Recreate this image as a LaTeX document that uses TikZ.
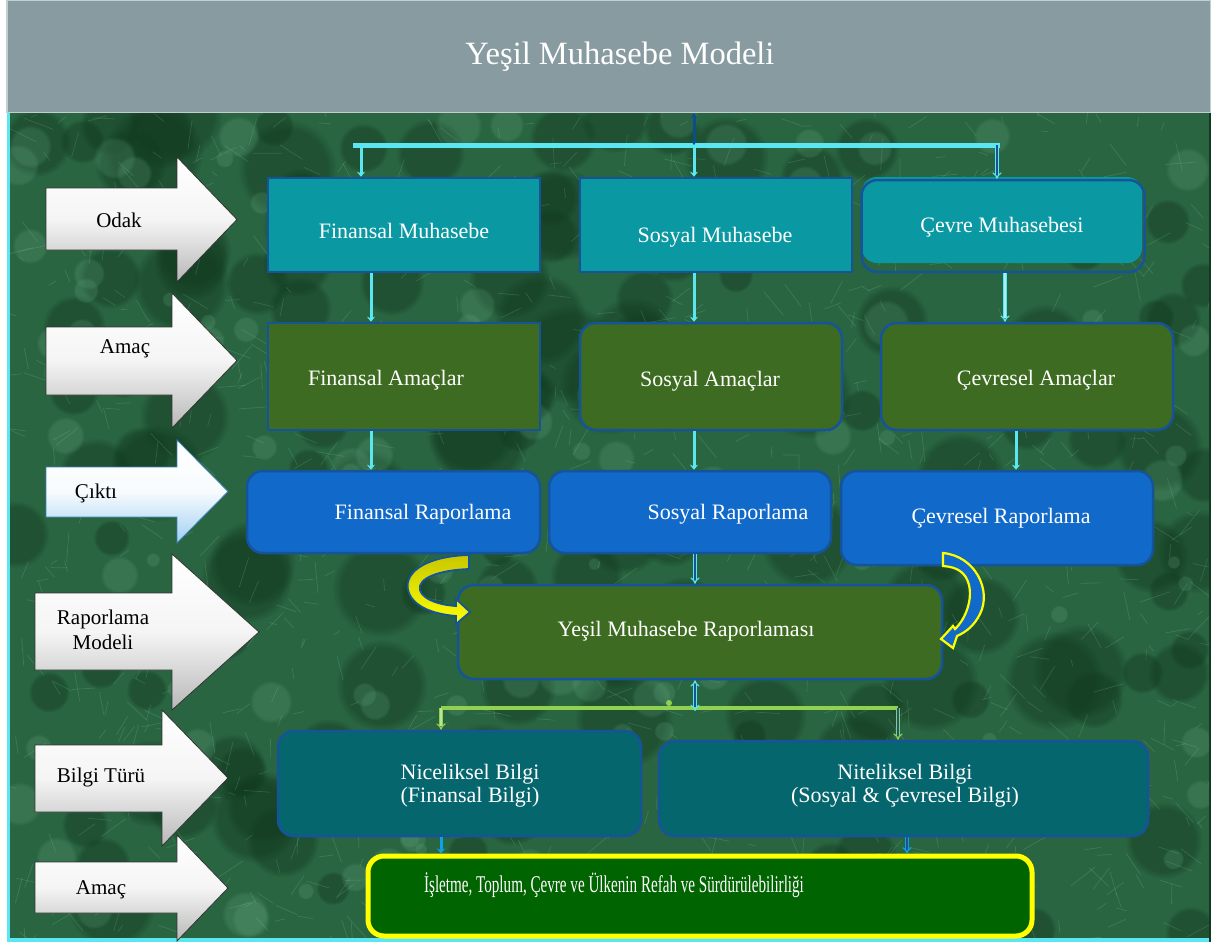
\documentclass[tikz,border=0pt]{standalone}
\usepackage{fontspec}
\setmainfont{Liberation Serif}
\newfontfamily\narrowserif[FakeStretch=0.63]{Liberation Serif}
\usetikzlibrary{arrows.meta,fadings}

% left-hand block arrow: body (x, top, bottom), head (base x, top, bottom), tip x, style
\newcommand{\sidearrow}[8]{%
  \draw[#8] (#1,#2) -- (#4,#2) -- (#4,#5) -- (#7,{(#5+#6)/2}) -- (#4,#6) -- (#4,#3) -- (#1,#3) -- cycle;}

\begin{document}
\begin{tikzpicture}[x=1pt,y=1pt,yscale=-1,xscale=1,
  boxtext/.style={text=white, font=\fontsize{22}{23}\selectfont, align=center},
  sidetext/.style={text=black, font=\fontsize{21}{25}\selectfont, align=center},
  sharpbox/.style={draw=edgeblue, line width=2.5pt, inner sep=0pt},
  roundbox/.style={sharpbox, rounded corners=16pt},
  whitearrow/.style={draw=black!80, line width=0.8pt, top color=white, bottom color=black!28, middle color=white!96!black},
  bluearrow/.style={draw=arrowedge, line width=0.8pt, top color=white, bottom color=skyblue, middle color=white!92!skyblue},
  feed/.style={draw=#1, line width=3pt, -{Stealth[length=5pt,width=8pt]}},
  feed/.default=feedcyan,
  hollow/.style={draw=#1, line width=1.2pt, double=edgeblue, double distance=1.8pt, -{Implies}},
  blob/.style={fill=#1, path fading=circle with fuzzy edge 20 percent},
]

\definecolor{titlegray}{HTML}{879BA0}
\definecolor{titleedge}{HTML}{C3CED1}
\definecolor{marble}{HTML}{2A6541}
\definecolor{marbledark}{HTML}{123A20}
\definecolor{marblelight}{HTML}{6DB38A}
\definecolor{marblevein}{HTML}{8FD0A8}
\definecolor{tealfill}{HTML}{0A99A2}
\definecolor{olivefill}{HTML}{3D6B21}
\definecolor{bluefill}{HTML}{1169C9}
\definecolor{deepteal}{HTML}{05666E}
\definecolor{goalgreen}{HTML}{006400}
\definecolor{edgeblue}{HTML}{15549A}
\definecolor{feedcyan}{HTML}{5CE6F2}
\definecolor{feedblue}{HTML}{0BA3E6}
\definecolor{limeline}{HTML}{92D050}
\definecolor{skyblue}{HTML}{9FD0F2}
\definecolor{arrowedge}{HTML}{3A7FB5}
\definecolor{goalyellow}{HTML}{FFFF00}
\definecolor{darkline}{HTML}{0B4F8A}

\useasboundingbox (0,0) rectangle (1211,942);
\fill[white] (0,0) rectangle (1211,942);

% marble backdrop
\fill[marble] (7,113) rectangle (1211,942);
\begin{scope}
  \clip (7,113) rectangle (1211,942);
  \pgfmathsetseed{42}
  \foreach \k in {1,...,150} {
    \pgfmathsetmacro{\px}{7+rnd*1204}
    \pgfmathsetmacro{\py}{113+rnd*829}
    \pgfmathsetmacro{\pr}{15+rnd*35}
    \fill[blob=marbledark, opacity=0.45] (\px,\py) circle (\pr);
  }
  \foreach \k in {1,...,140} {
    \pgfmathsetmacro{\px}{7+rnd*1204}
    \pgfmathsetmacro{\py}{113+rnd*829}
    \pgfmathsetmacro{\pr}{6+rnd*18}
    \fill[blob=marblelight, opacity=0.2] (\px,\py) circle (\pr);
  }
  \foreach \k in {1,...,1100} {
    \pgfmathsetmacro{\px}{7+rnd*1204}
    \pgfmathsetmacro{\py}{113+rnd*829}
    \pgfmathsetmacro{\pa}{rnd*360}
    \pgfmathsetmacro{\pl}{6+rnd*26}
    \draw[marblevein, opacity=0.2, line width=0.7pt] (\px,\py) -- ++(\pa:\pl);
  }
\end{scope}
\draw[feedcyan, line width=3pt] (8.5,113) -- (8.5,942);
\draw[feedcyan, line width=5pt] (7,940) -- (1211,940);
\draw[marbledark, line width=2pt] (1210,113) -- (1210,942);

% title bar
\node[draw=titleedge, line width=1.2pt, fill=titlegray, minimum width=1204, minimum height=112, inner sep=0pt] (title) at (609,56.5) {};
\node[text=white, font=\fontsize{32.5}{36}\selectfont] (title-t) at (620,57) {Yeşil Muhasebe Modeli};

% row labels on the left
\sidearrow{46}{188}{250}{177}{157}{282}{237}{whitearrow}
\sidearrow{46}{327}{395}{172}{293}{428}{237}{whitearrow}
\sidearrow{46}{467}{517}{177}{440}{543}{228}{bluearrow}
\sidearrow{35}{593}{670}{172}{554}{710}{259}{whitearrow}
\sidearrow{35}{745}{812}{162}{710}{846}{228}{whitearrow}
\sidearrow{35}{862}{913}{177}{835}{941}{228}{whitearrow}
\node[sidetext] (odak) at (119,220) {Odak};
\node[sidetext] (amac1) at (125,349) {Amaç};
\node[sidetext] (cikti) at (96,493) {Çıktı};
\node[sidetext] (rmodel) at (103,630) {Raporlama\\Modeli};
\node[sidetext] (bturu) at (101,777) {Bilgi Türü};
\node[sidetext] (amac2) at (101,890) {Amaç};

% focus row
\node[sharpbox, fill=tealfill, minimum width=272, minimum height=94] (fm) at (404,225) {};
\node[sharpbox, fill=tealfill, minimum width=272, minimum height=94] (sm) at (716,225) {};
\fill[tealfill, rounded corners=15pt] (862,177) rectangle (1142,263);
\node[roundbox, minimum width=283, minimum height=92] (cm) at (1003,226) {};
\node[boxtext] (fm-t) at (404,231) {Finansal Muhasebe};
\node[boxtext] (sm-t) at (715,237) {Sosyal Muhasebe};
\node[boxtext] (cm-t) at (1002,227) {Çevre Muhasebesi};

% aims row
\node[sharpbox, fill=olivefill, minimum width=272, minimum height=107] (fa) at (404,376.5) {};
\node[roundbox, fill=olivefill, minimum width=262, minimum height=107] (sa) at (711,376.5) {};
\node[roundbox, fill=olivefill, minimum width=292, minimum height=107] (ca) at (1027,376.5) {};
\node[boxtext] (fa-t) at (386,380) {Finansal Amaçlar};
\node[boxtext] (sa-t) at (710,381) {Sosyal Amaçlar};
\node[boxtext] (ca-t) at (1036,380) {Çevresel Amaçlar};

% reporting row
\node[roundbox, fill=bluefill, minimum width=293, minimum height=82] (fr) at (393.5,512) {};
\node[roundbox, fill=bluefill, minimum width=282, minimum height=82] (sr) at (690,512) {};
\node[roundbox, fill=bluefill, minimum width=312, minimum height=94] (cr) at (997,518) {};
\node[boxtext] (fr-t) at (423,514) {Finansal Raporlama};
\node[boxtext] (sr-t) at (728,514) {Sosyal Raporlama};
\node[boxtext] (cr-t) at (1001,518) {Çevresel Raporlama};

% combined report
\node[roundbox, fill=olivefill, minimum width=484, minimum height=94] (ym) at (700,632) {};
\node[boxtext] (ym-t) at (686,631) {Yeşil Muhasebe Raporlaması};

% kinds of information
\node[roundbox, fill=deepteal, minimum width=363, minimum height=105] (nb) at (459.5,783.5) {};
\node[roundbox, fill=deepteal, minimum width=489, minimum height=95] (tb) at (903.5,788.5) {};
\node[boxtext] (nb-t) at (470,786) {Niceliksel Bilgi\\(Finansal Bilgi)};
\node[boxtext] (tb-t) at (905,786) {Niteliksel Bilgi\\(Sosyal \& Çevresel Bilgi)};

% final aim
\node[draw=goalyellow, line width=5pt, fill=goalgreen, rounded corners=16pt, minimum width=664, minimum height=80, inner sep=0pt] (goal) at (700,896) {};
\node[text=white, font=\narrowserif\fontsize{24}{26}\selectfont] (goal-t) at (614,885) {İşletme, Toplum, Çevre ve Ülkenin Refah ve Sürdürülebilirliği};

% branching from the title
\coordinate (barL) at (353,145);
\coordinate (barR) at (1000,145);
\coordinate (dropF) at (361,145);
\coordinate (dropS) at (694,145);
\coordinate (dropC) at (997,145);
\draw[feedcyan, line width=5pt] (barL) -- (barR);
\draw[darkline, line width=3pt, {Stealth[length=5pt,width=7pt]}-{Stealth[length=5pt,width=7pt]}] (694,0 |- title.south) -- (dropS);
\draw[feed] (dropF) -- (dropF |- fm.north);
\draw[feed] (dropS) -- (dropS |- sm.north);
\draw[hollow=feedcyan] (dropC) -- (dropC |- cm.north);

% down the columns
\draw[feed] (371,0 |- fm.south) -- (371,0 |- fa.north);
\draw[feed] (694,0 |- sm.south) -- (694,0 |- sa.north);
\draw[hollow=feedcyan, double=feedcyan!55!white] (1005,0 |- cm.south) -- (1005,0 |- ca.north);
\draw[feed] (371,0 |- fa.south) -- (371,0 |- fr.north);
\draw[feed] (694,0 |- sa.south) -- (694,0 |- sr.north);
\draw[feed] (1016,0 |- ca.south) -- (1016,0 |- cr.north);
\draw[hollow=feedcyan] (695,0 |- sr.south) -- (695,0 |- ym.north);

% curved arrows into the combined report
\draw[draw=edgeblue, line width=1.8pt, top color=yellow!78!black, bottom color=goalyellow]
  (469,555) .. controls (430,556) and (404,570) .. (408,590)
  .. controls (412,606) and (432,614) .. (456,616)
  -- (456,624) -- (470,612) -- (456,599) -- (456,606)
  .. controls (440,605) and (423,600) .. (420,590)
  .. controls (417,578) and (440,570) .. (469,569) -- cycle;
\draw[draw=goalyellow, line width=2.2pt, fill=bluefill]
  (943,553) .. controls (975,556) and (992,590) .. (980,614)
  .. controls (974,626) and (966,632) .. (957,636)
  -- (953,648) -- (941,639) -- (953,626) -- (955,629)
  .. controls (963,622) and (973,603) .. (969,585)
  .. controls (966,573) and (958,567) .. (943,566) -- cycle;

% split towards the kinds of information
\coordinate (splitL) at (441,708);
\coordinate (splitR) at (898,708);
\coordinate (split) at (695,711);
\draw[limeline, line width=4pt] (splitL) -- (splitR);
\fill[limeline] (669,703) circle (3);
\draw[hollow=feedcyan, {Implies}-{Implies}] (695,0 |- ym.south) -- (split);
\draw[hollow=limeline, double=limeline!60!white] (splitL) -- (splitL |- nb.north);
\draw[hollow=limeline] (splitR) -- (splitR |- tb.north);

% into the final aim
\draw[feed=feedblue] (441,0 |- nb.south) -- (441,0 |- goal.north);
\draw[hollow=feedblue] (907,0 |- tb.south) -- (907,0 |- goal.north);

\end{tikzpicture}
\end{document}
